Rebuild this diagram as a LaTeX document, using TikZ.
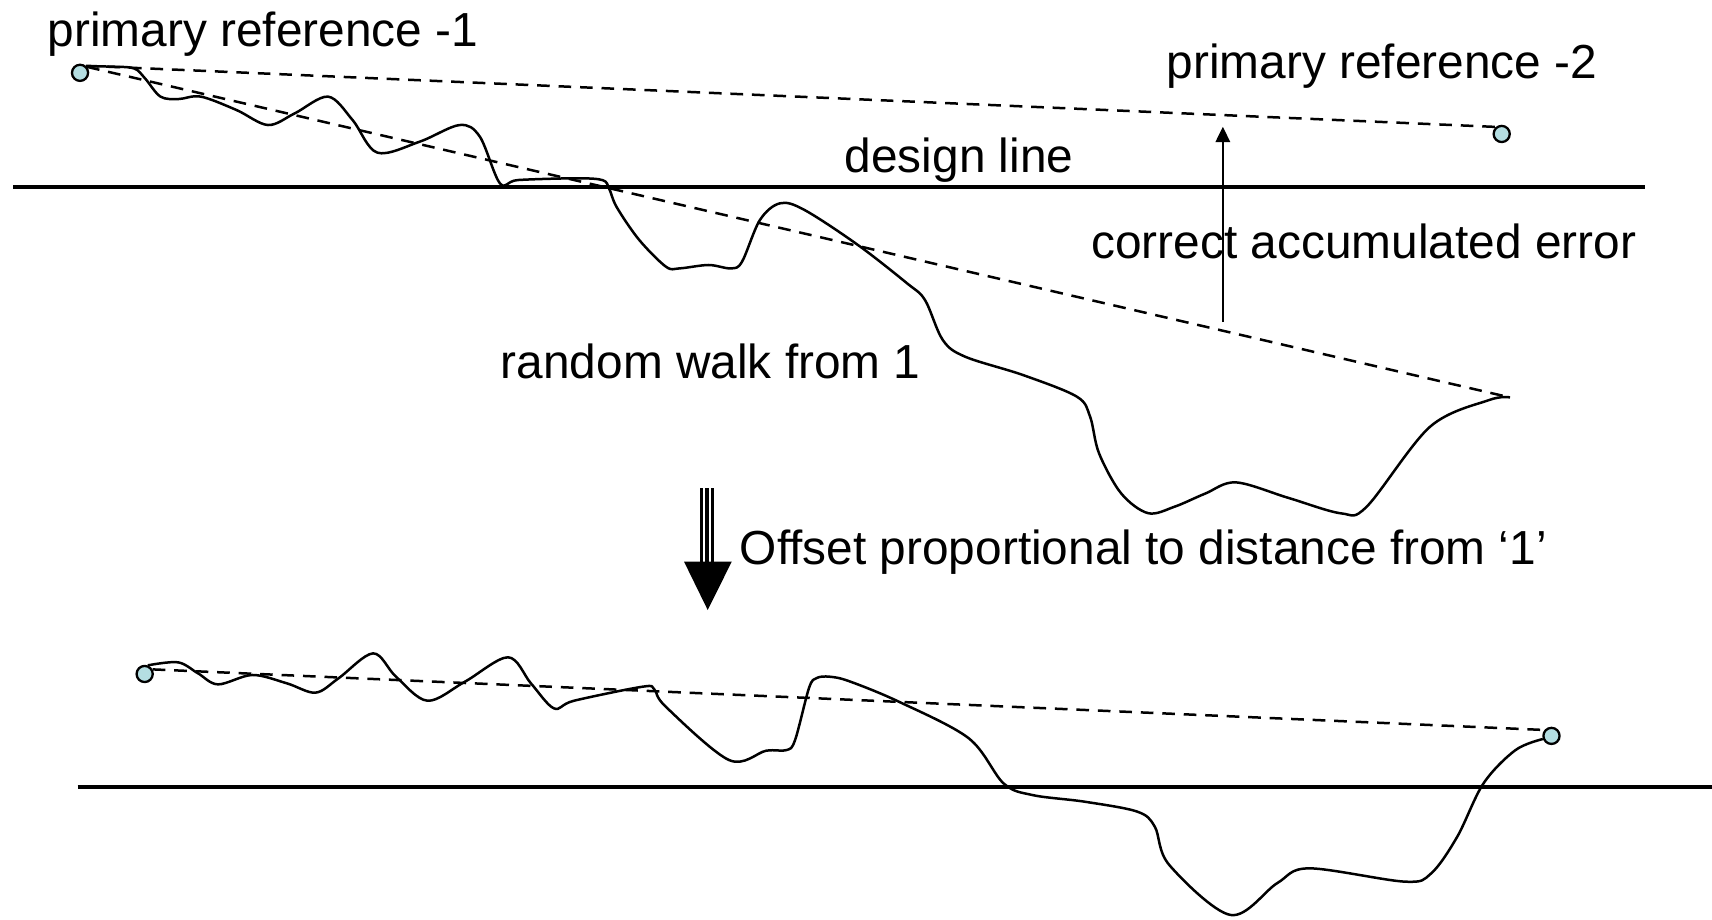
\documentclass[tikz,border=0pt]{standalone}
\usepackage{fontspec}
\setmainfont{Liberation Sans}
\usetikzlibrary{arrows.meta}
\definecolor{refcyan}{RGB}{180,222,226}
\begin{document}
\begin{tikzpicture}[x=0.01cm,y=-0.01cm,
  every node/.style={font=\fontsize{12.45}{15}\selectfont},
  lbl/.style={anchor=base west,inner sep=0pt},
  refpt/.style={circle,draw=black,line width=0.6pt,fill=refcyan,minimum size=4.2pt,inner sep=0pt},
  baseline/.style={line width=0.95pt},
  walk/.style={line width=0.65pt,line join=round},
  chord/.style={line width=0.65pt,dash pattern=on 3.3pt off 2.3pt},
  shaftline/.style={line width=0.9pt}]
\useasboundingbox (0,0) rectangle (1568,842);

% reference points
\node[refpt] (p1) at (73.3,66.7) {};
\node[refpt] (p2) at (1375.4,122.7) {};
\node[refpt] (q1) at (132.5,617.3) {};
\node[refpt] (q2) at (1421,674) {};

% labels
\node[lbl] (t1) at (43,43) {primary reference -1};
\node[lbl] (t2) at (1068,72) {primary reference -2};
\node[lbl] (t3) at (773,158) {design line};
\node[lbl] (t4) at (999,237) {correct accumulated error};
\node[lbl] (t5) at (458,347) {random walk from 1};
\node[lbl] (t6) at (677,517) {Offset proportional to distance from ‘1’};

% design lines
\coordinate (d1a) at (12,171);
\coordinate (d1b) at (1507,171);
\coordinate (d2a) at (71,721);
\coordinate (d2b) at (1568,721);
\draw[baseline] (d1a) -- (d1b);
\draw[baseline] (d2a) -- (d2b);

% chords between reference points
\coordinate (e1) at (1383,364);
\draw[chord] (p1.50) -- (p2.130);
\draw[chord] (p1.40) -- (e1);
\draw[chord] (q1.30) -- (q2.140);

% uncorrected random walk
\draw[walk] plot[smooth,tension=0.55] coordinates {
  (p1.45) (100,61) (122.6,62.6) (133,72) (147,88.5) (163.6,90.7) (184,88.5)
  (216.7,100.8) (245.4,114.5) (270,103.8) (300.5,88.5) (323,110) (345.6,139.8)
  (384.3,129.8) (421,114.5) (439.5,125.2) (458,168) (474.3,164.9) (527.5,163.3)
  (552,165) (558,173) (565,190) (585.5,219.8) (610,244.3) (622.4,245.8)
  (649,242.7) (669.4,245.8) (679.6,239.7) (696,201.5) (714.4,186.2) (736.8,192.3)
  (785.8,224.4) (830.8,259.5) (847.2,274.8) (863.5,311.4) (884,326.7) (937,343.5)
  (986.3,363.3) (998.4,381.6) (1006.6,415.2) (1026.8,451.8) (1051.5,470)
  (1076,464) (1104,452) (1131.9,441.8) (1180,456) (1228.5,470.2) (1251.8,464)
  (1309.8,390.8) (1363.8,366.4) (e1)};

% corrected random walk
\draw[walk] plot[smooth,tension=0.55] coordinates {
  (q1.70) (163,606.6) (181.4,616.7) (199.7,626.8) (231.3,618.2) (262.9,625.9)
  (289,634.4) (310,621.3) (341.7,598.4) (362.7,619.8) (391.6,641.8) (425.9,624.3)
  (465.3,602) (486.3,625.9) (507.4,648.8) (525.7,641.8) (588.8,628.9) (599.3,631.4)
  (609.8,647.3) (667.7,696.1) (701.6,687.6) (720.3,687) (728.2,677.8) (741,630)
  (748,621) (760,619.8) (778,624) (823.3,642.7) (887.3,676.2) (919.2,717.5) (945.8,728.2)
  (993.7,734.3) (1041.7,743.4) (1057.7,757.2) (1071,792.3) (1127,838) (1169.6,809)
  (1198.9,795.3) (1286.8,807.5) (1310.8,799.9) (1334.7,766.3) (1358.7,717.5)
  (1388,687) (q2.200)};

% correction arrow
\coordinate (c0) at (1120,295);
\coordinate (c1) at (1120,116);
\draw[line width=0.65pt,-{Triangle[length=4pt,width=3.7pt]}] (c0) -- (c1);

% striped block arrow: three stripes over a solid head
\coordinate (sa0) at (642.5,447);
\coordinate (sa1) at (642.5,515);
\coordinate (sb0) at (647.5,447);
\coordinate (sb1) at (647.5,515);
\coordinate (sc0) at (652.5,447);
\coordinate (sc1) at (652.5,515);
\coordinate (bl) at (626.5,514.4);
\coordinate (br) at (670.2,514.4);
\coordinate (bt) at (648.2,558.7);
\draw[shaftline] (sa0) -- (sa1);
\draw[shaftline] (sb0) -- (sb1);
\draw[shaftline] (sc0) -- (sc1);
\fill (bl) -- (br) -- (bt) -- cycle;
\end{tikzpicture}
\end{document}
